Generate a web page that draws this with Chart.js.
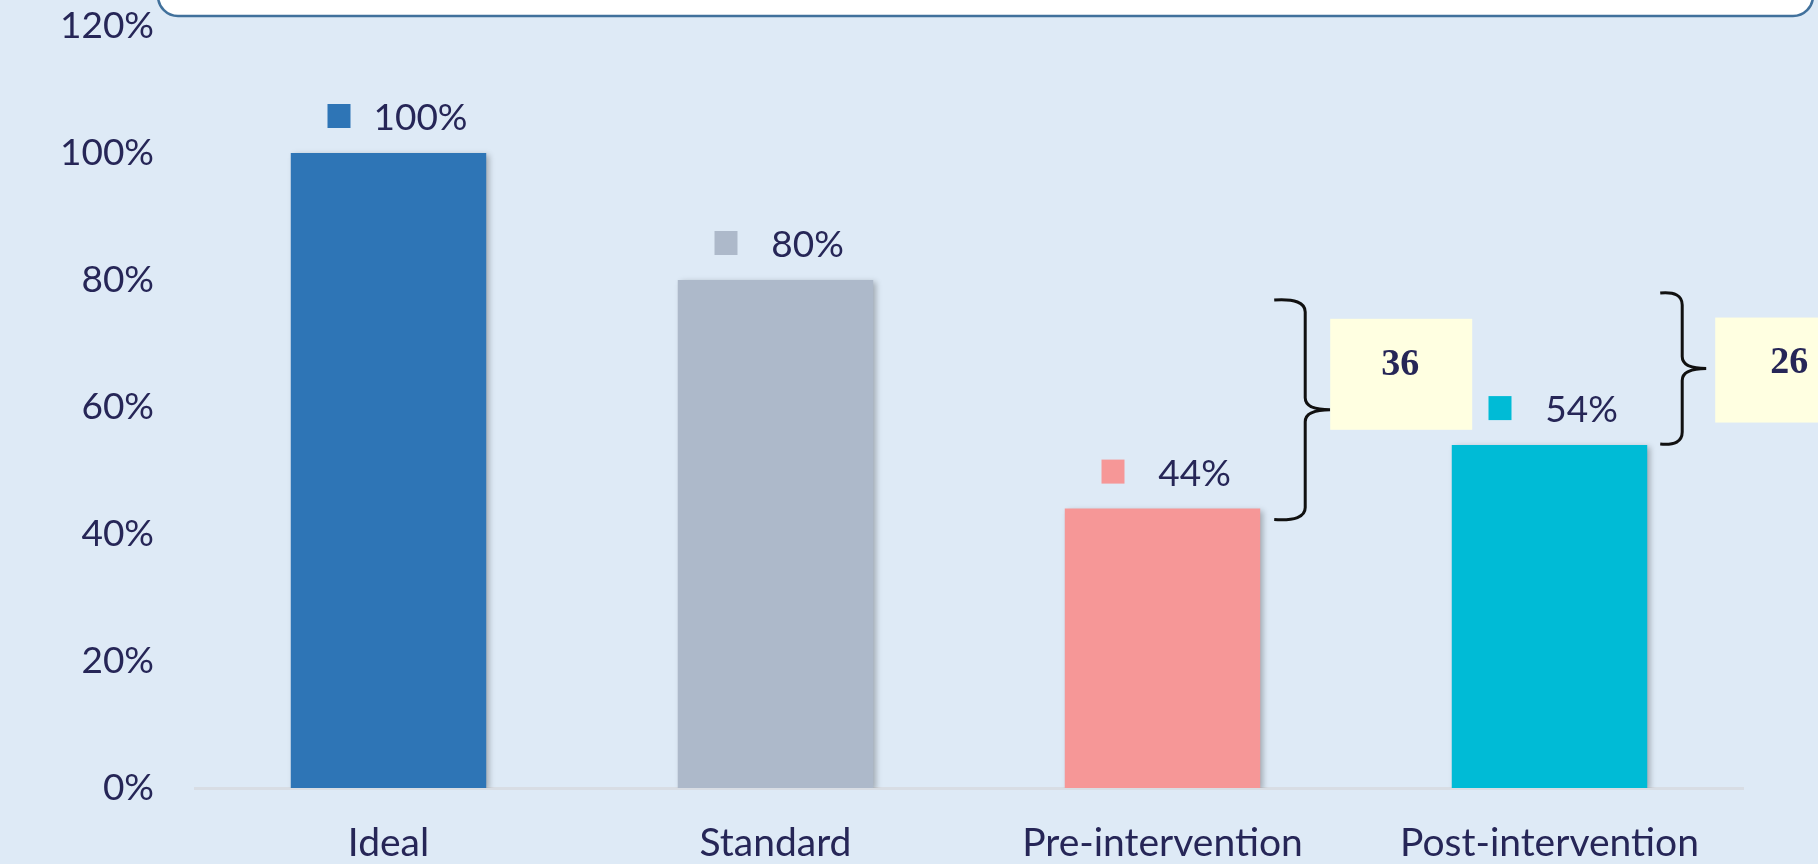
<!DOCTYPE html>
<html>
<head>
<meta charset="utf-8">
<script src="https://cdn.jsdelivr.net/npm/chart.js@4.4.1/dist/chart.umd.min.js"></script>
<style>
  html, body { margin:0; padding:0; background:#DEEAF6; }
  #wrap { width:1818px; height:864px; position:relative; }
</style>
</head>
<body>
<div id="wrap"><canvas id="chart"></canvas></div>
<script>
/* Ideal vs standard vs pre/post intervention — bar chart */
const categories = ['Ideal', 'Standard', 'Pre-intervention', 'Post-intervention'];
const values = [100, 80, 44, 54];
const yTicks = [0, 20, 40, 60, 80, 100, 120];
// brace annotations: gap between Standard and a lower bar
const gapFrom = [1, 1];
const gapTo = [2, 3];

const barColors = ['#2E75B6', '#ADB9CA', '#F69797', '#00BBD6'];
const ink = '#262657';
const font = 'Lato, "Open Sans", sans-serif';

// background + the clipped title box at the top
const backdrop = {
  id:'backdrop',
  beforeDraw(c){
    const ctx = c.ctx;
    ctx.save();
    ctx.fillStyle = '#DEEAF6';
    ctx.fillRect(0, 0, c.width, c.height);
    ctx.restore();
  },
  afterDraw(c){
    const ctx = c.ctx;
    ctx.save();
    ctx.beginPath();
    ctx.roundRect(158, -60, 1655, 76, 20);
    ctx.fillStyle = '#fff';
    ctx.fill();
    ctx.lineWidth = 2.5;
    ctx.strokeStyle = '#41719C';
    ctx.stroke();
    ctx.restore();
  }
};

// soft shadow under the bars
const barShadow = {
  id:'barShadow',
  beforeDatasetDraw(c){
    const ctx = c.ctx;
    ctx.save();
    ctx.shadowColor = 'rgba(0,0,0,0.28)';
    ctx.shadowBlur = 6;
    ctx.shadowOffsetX = 3;
    ctx.shadowOffsetY = 2;
  },
  afterDatasetDraw(c){ c.ctx.restore(); }
};

// Excel style labels: colour key + value above each bar
const keyLabels = {
  id:'keyLabels',
  afterDatasetsDraw(c){
    const ctx = c.ctx;
    const bars = c.getDatasetMeta(0).data;
    ctx.save();
    ctx.font = `37px ${font}`;
    ctx.textAlign = 'center';
    ctx.textBaseline = 'middle';
    bars.forEach((b, i) => {
      const cy = b.y - 37;
      ctx.fillStyle = barColors[i];
      ctx.fillRect(b.x - 61, cy - 12, 23, 24);
      ctx.fillStyle = ink;
      ctx.fillText(values[i] + '%', b.x + 32, cy + 2);
    });
    ctx.restore();
  }
};

function brace(ctx, x0, sx, tx, yT, yB){
  const ym = (yT + yB) / 2, r = 12;
  ctx.beginPath();
  ctx.moveTo(x0, yT);
  ctx.quadraticCurveTo(sx, yT - 2, sx, yT + r);
  ctx.lineTo(sx, ym - r);
  ctx.quadraticCurveTo(sx, ym, tx, ym);
  ctx.moveTo(tx, ym);
  ctx.quadraticCurveTo(sx, ym, sx, ym + r);
  ctx.lineTo(sx, yB - r);
  ctx.quadraticCurveTo(sx, yB + 2, x0, yB);
  ctx.stroke();
}

// braces with the difference in a yellow box
const gapBraces = {
  id:'gapBraces',
  afterDraw(c){
    const ctx = c.ctx;
    const y = c.scales.y;
    const bars = c.getDatasetMeta(0).data;
    const shape = [
      {end:14, spine:45, tip:70, top:20, bot:11, boxDx:0, boxTop:-91, boxW:142, boxH:111},
      {end:13, spine:35, tip:59, top:13, bot:-1, boxDx:9, boxTop:-51, boxW:150, boxH:105}
    ];
    gapFrom.forEach((hi, k) => {
      const lo = gapTo[k], s = shape[k];
      const right = bars[lo].x + bars[lo].width / 2;
      const yT = y.getPixelForValue(values[hi]) + s.top;
      const yB = y.getPixelForValue(values[lo]) + s.bot;
      const ym = (yT + yB) / 2;
      ctx.save();
      ctx.strokeStyle = '#111';
      ctx.lineWidth = 3;
      brace(ctx, right + s.end, right + s.spine, right + s.tip, yT, yB);
      const bx = right + s.tip + s.boxDx, by = ym + s.boxTop;
      ctx.fillStyle = '#FFFFE1';
      ctx.fillRect(bx, by, s.boxW, s.boxH);
      ctx.fillStyle = ink;
      ctx.font = `bold 38px "Liberation Serif", "DejaVu Serif", serif`;
      ctx.textAlign = 'center';
      ctx.textBaseline = 'middle';
      ctx.fillText(String(values[hi] - values[lo]), bx + s.boxW / 2 - 1, by + 46);
      ctx.restore();
    });
  }
};

new Chart(document.getElementById('chart'), {
  type:'bar',
  data:{
    labels: categories,
    datasets:[{ data: values, backgroundColor: barColors, barPercentage:0.505, categoryPercentage:1 }]
  },
  options:{
    responsive:true, maintainAspectRatio:false, animation:false,
    layout:{ padding:{ top:26, right:75, bottom:0, left:0 } },
    plugins:{ legend:{display:false}, tooltip:{enabled:false} },
    scales:{
      x:{
        grid:{ display:true, color:'rgba(0,0,0,0)', drawTicks:false },
        border:{ display:true, color:'#D8DDE4', width:3 },
        ticks:{ color:ink, font:{ family:font, size:39 }, padding:32 },
        afterFit(s){ s.height = 76; s.paddingLeft = 0; s.paddingRight = 0; }
      },
      y:{
        min:0, max:120,
        grid:{ display:false, drawTicks:false },
        border:{ display:false },
        afterBuildTicks(s){ s.ticks = yTicks.map(v => ({value:v})); },
        ticks:{ color:ink, font:{ family:font, size:37 }, padding:41, callback:v => v + '%' },
        afterFit(s){ s.width = 195; s.paddingTop = 0; s.paddingBottom = 0; }
      }
    }
  },
  plugins:[backdrop, barShadow, keyLabels, gapBraces]
});
</script>
</body>
</html>
